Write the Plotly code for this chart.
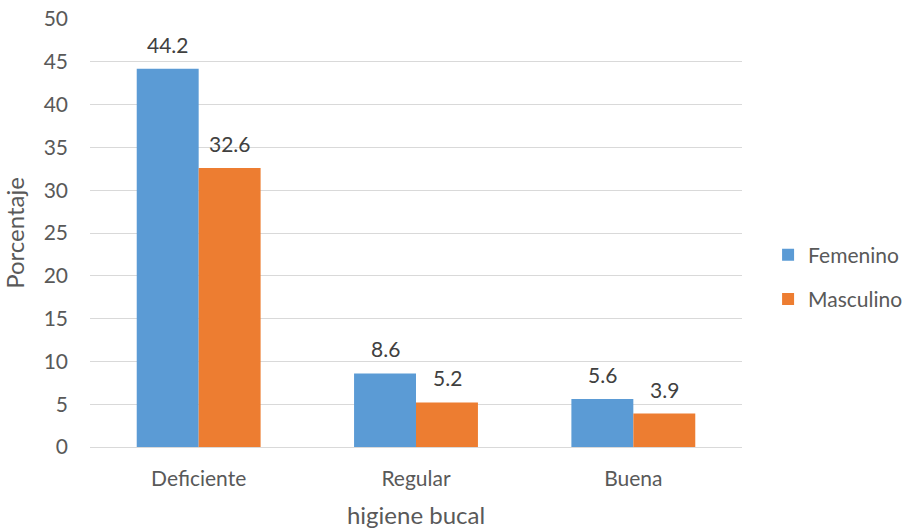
import plotly.graph_objects as go

categories = ["Deficiente", "Regular", "Buena"]
femenino = [44.2, 8.6, 5.6]
masculino = [32.6, 5.2, 3.9]
series_names = ["Femenino", "Masculino"]
y_ticks = [0, 5, 10, 15, 20, 25, 30, 35, 40, 45, 50]

BLUE = "#5B9BD5"
ORANGE = "#ED7D31"
TEXT = "#595959"
FONT = "Lato"

fig = go.Figure()
for name, vals, col, grp in [(series_names[0], femenino, BLUE, "a"),
                              (series_names[1], masculino, ORANGE, "b")]:
    fig.add_trace(go.Bar(x=categories, y=vals, name=name, marker_color=col,
                         marker_line_width=0, legendgroup=grp))

annotations = []
for vals, shift in [(femenino, -31), (masculino, 31)]:
    for c, v in zip(categories, vals):
        annotations.append(dict(x=c, y=v, text=f"{v}", showarrow=False,
                                xref="x", yref="y", xshift=shift, yshift=10,
                                yanchor="bottom",
                                font=dict(family=FONT, size=21, color="#404040")))

fig.update_layout(
    width=904, height=532,
    margin=dict(l=90, r=162, t=19, b=85, autoexpand=False),
    paper_bgcolor="white", plot_bgcolor="white",
    barmode="group", bargap=0.43, bargroupgap=0,
    font=dict(family=FONT, size=21, color=TEXT),
    showlegend=True,
    legend=dict(x=1.04, xanchor="left", xref="paper", y=0.397, yanchor="middle",
                traceorder="grouped", tracegroupgap=14,
                font=dict(family=FONT, size=21, color=TEXT),
                itemwidth=30),
    annotations=annotations,
)
fig.update_xaxes(title=dict(text="higiene bucal", standoff=18,
                            font=dict(family=FONT, size=24, color=TEXT)),
                 automargin=False,
                 showgrid=False, showline=False, ticks="", ticklabelstandoff=17,
                 tickfont=dict(family=FONT, size=21, color=TEXT))
fig.update_yaxes(title=dict(text="Porcentaje", standoff=14,
                            font=dict(family=FONT, size=24, color=TEXT)),
                 automargin=False,
                 range=[0, 50], tickvals=y_ticks, showgrid=True,
                 gridcolor="#D9D9D9", gridwidth=1, zeroline=True,
                 zerolinecolor="#D9D9D9", zerolinewidth=1, showline=False,
                 ticks="", ticklabelstandoff=21,
                 tickfont=dict(family=FONT, size=21, color=TEXT))

fig.write_html("out.html")
